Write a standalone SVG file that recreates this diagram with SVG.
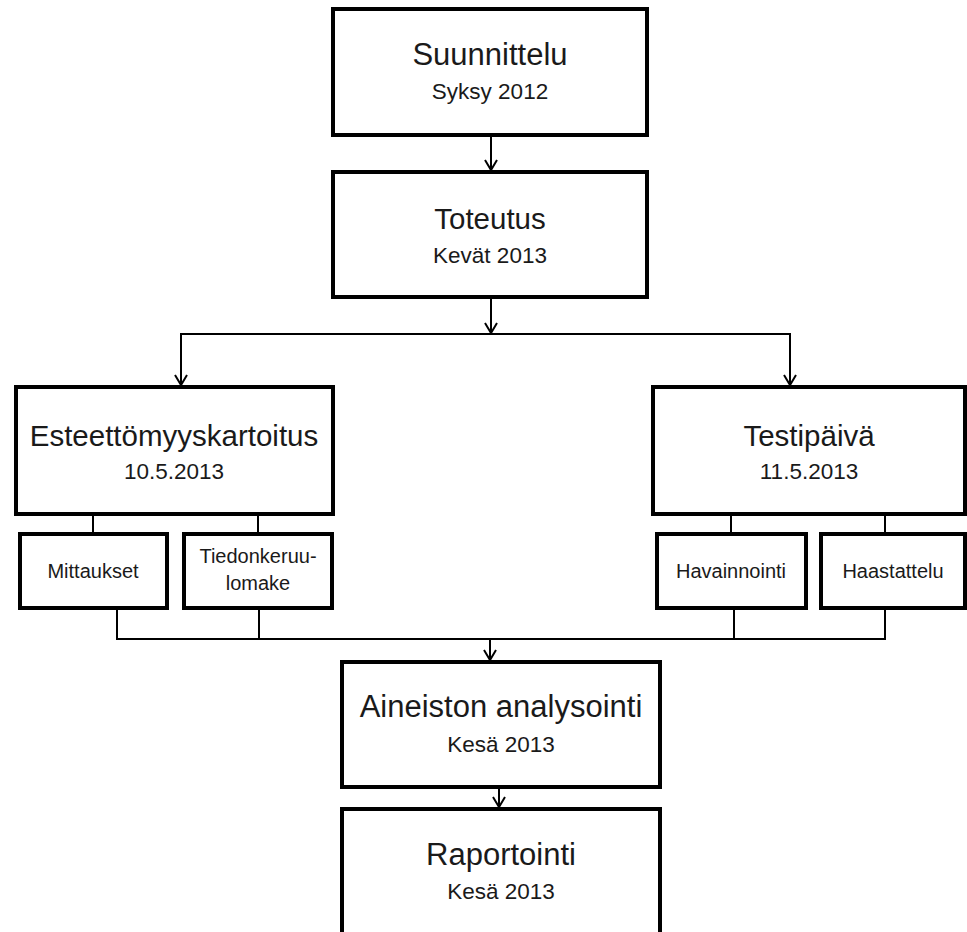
<svg xmlns="http://www.w3.org/2000/svg" width="967" height="932" viewBox="0 0 967 932">
<defs>
<style>
.box{fill:#fff;stroke:#000;stroke-width:4}
.ln{fill:none;stroke:#000;stroke-width:2}
.t{font-family:"Liberation Sans",Arial,sans-serif;fill:#1a1a1a;text-anchor:middle}
.h{font-size:31px}
.h2{font-size:29.5px}
.s{font-size:22.5px}
.m{font-size:20px}
</style>
<marker id="ar" markerWidth="16" markerHeight="16" refX="12" refY="8" orient="auto" markerUnits="userSpaceOnUse">
<path d="M2,2 L12,8 L2,14" fill="none" stroke="#000" stroke-width="2"/>
</marker>
</defs>
<rect width="967" height="932" fill="#fff"/>
<g id="connectors">
<line class="ln" x1="491" y1="135" x2="491" y2="170" marker-end="url(#ar)"/>
<line class="ln" x1="491" y1="297" x2="491" y2="333" marker-end="url(#ar)"/>
<polyline class="ln" points="181,385 181,334 790,334 790,385" />
<line class="ln" x1="181" y1="340" x2="181" y2="385" marker-end="url(#ar)"/>
<line class="ln" x1="790" y1="340" x2="790" y2="385" marker-end="url(#ar)"/>
<line class="ln" x1="93" y1="514" x2="93" y2="534"/>
<line class="ln" x1="258" y1="514" x2="258" y2="534"/>
<line class="ln" x1="731" y1="514" x2="731" y2="534"/>
<line class="ln" x1="885" y1="514" x2="885" y2="534"/>
<polyline class="ln" points="117,608 117,639 885,639 885,608"/>
<line class="ln" x1="259" y1="608" x2="259" y2="639"/>
<line class="ln" x1="734" y1="608" x2="734" y2="639"/>
<line class="ln" x1="490" y1="639" x2="490" y2="660" marker-end="url(#ar)"/>
<line class="ln" x1="499" y1="787" x2="499" y2="807" marker-end="url(#ar)"/>
</g>
<g id="suunnittelu">
<rect class="box" x="333" y="9" width="314" height="126"/>
<text class="t h" x="490" y="65">Suunnittelu</text>
<text class="t s" x="490" y="99">Syksy 2012</text>
</g>
<g id="toteutus">
<rect class="box" x="333" y="172" width="314" height="125"/>
<text class="t h2" x="490" y="229">Toteutus</text>
<text class="t s" x="490" y="263">Kevät 2013</text>
</g>
<g id="esteettomyyskartoitus">
<rect class="box" x="16" y="387" width="317" height="127"/>
<text class="t h2" x="174" y="446">Esteettömyyskartoitus</text>
<text class="t s" x="174" y="479">10.5.2013</text>
</g>
<g id="testipaiva">
<rect class="box" x="653" y="387" width="312" height="127"/>
<text class="t h2" x="809" y="446">Testipäivä</text>
<text class="t s" x="809" y="479">11.5.2013</text>
</g>
<g id="mittaukset">
<rect class="box" x="20" y="534" width="147" height="74"/>
<text class="t m" x="93" y="578">Mittaukset</text>
</g>
<g id="tiedonkeruulomake">
<rect class="box" x="184" y="534" width="148" height="74"/>
<text class="t m" x="258" y="563">Tiedonkeruu-</text>
<text class="t m" x="258" y="590">lomake</text>
</g>
<g id="havainnointi">
<rect class="box" x="657" y="534" width="149" height="74"/>
<text class="t m" x="731" y="578">Havainnointi</text>
</g>
<g id="haastattelu">
<rect class="box" x="821" y="534" width="144" height="74"/>
<text class="t m" x="893" y="578">Haastattelu</text>
</g>
<g id="aineiston-analysointi">
<rect class="box" x="342" y="662" width="318" height="125"/>
<text class="t h" x="501" y="717">Aineiston analysointi</text>
<text class="t s" x="501" y="752">Kesä 2013</text>
</g>
<g id="raportointi">
<rect class="box" x="342" y="809" width="318" height="140"/>
<text class="t h" x="501" y="865">Raportointi</text>
<text class="t s" x="501" y="899">Kesä 2013</text>
</g>
</svg>
